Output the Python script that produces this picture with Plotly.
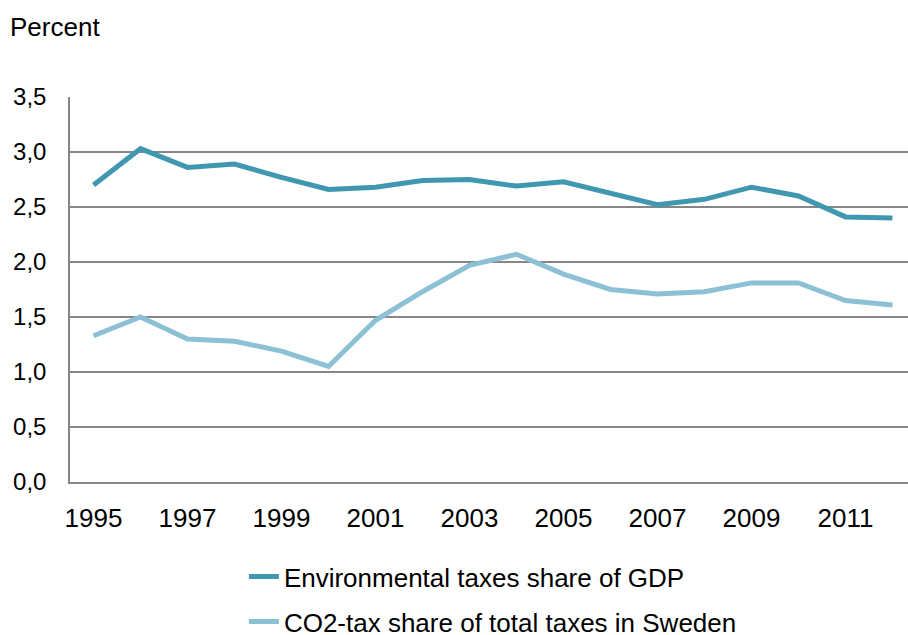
import plotly.graph_objects as go

years = [str(y) for y in range(1995, 2013)]
tick_years = ["1995", "1997", "1999", "2001", "2003", "2005", "2007", "2009", "2011"]

env_tax_gdp = [2.70, 3.03, 2.86, 2.89, 2.77, 2.66, 2.68, 2.74, 2.75,
               2.69, 2.73, 2.62, 2.52, 2.57, 2.68, 2.60, 2.41, 2.40]
co2_tax_share = [1.33, 1.50, 1.30, 1.28, 1.19, 1.05, 1.47, 1.73, 1.97,
                 2.07, 1.89, 1.75, 1.71, 1.73, 1.81, 1.81, 1.65, 1.61]

font = "Liberation Sans, Arial, sans-serif"

fig = go.Figure()

fig.add_trace(go.Scatter(
    x=years, y=env_tax_gdp,
    name="Environmental taxes share of GDP",
    mode="lines", line=dict(color="#3f97b0", width=5),
    legendgroup="a"))

fig.add_trace(go.Scatter(
    x=years, y=co2_tax_share,
    name="CO2-tax share of total taxes in Sweden",
    mode="lines", line=dict(color="#8cc0d4", width=5),
    legendgroup="b"))

fig.update_layout(
    width=908, height=635,
    margin=dict(l=70, r=0, t=97, b=153, autoexpand=False),
    paper_bgcolor="white", plot_bgcolor="white",
    separators=",.",
    font=dict(family=font, size=25, color="#000000"),
    title=dict(text="Percent", xref="container", yref="container",
               x=10/908, xanchor="left", y=1-27/635, yanchor="middle",
               font=dict(family=font, size=26, color="#000000")),
    showlegend=True,
    legend=dict(x=0.2075, y=-0.185, xanchor="left", yanchor="top",
                traceorder="grouped", tracegroupgap=8,
                font=dict(family=font, size=26), bgcolor="rgba(0,0,0,0)"),
    xaxis=dict(type="category", range=[-0.5, 17.33],
               tickvals=tick_years, ticktext=tick_years,
               tickfont=dict(size=26),
               showgrid=False, showline=True, linecolor="#868686", linewidth=1.5,
               ticks="", ticklabelstandoff=12, zeroline=False),
    yaxis=dict(range=[0, 3.5], dtick=0.5, tickformat=".1f",
               tickfont=dict(size=24),
               showgrid=True, gridcolor="#868686", gridwidth=1.5,
               showline=True, linecolor="#868686", linewidth=1.5,
               ticks="", ticklabelstandoff=17, zeroline=False),
)

# drop the page's default body margin so the figure sits at the window corner
fig.write_html("out.html", config={"displayModeBar": False},
               post_script="document.body.style.margin='0';")
